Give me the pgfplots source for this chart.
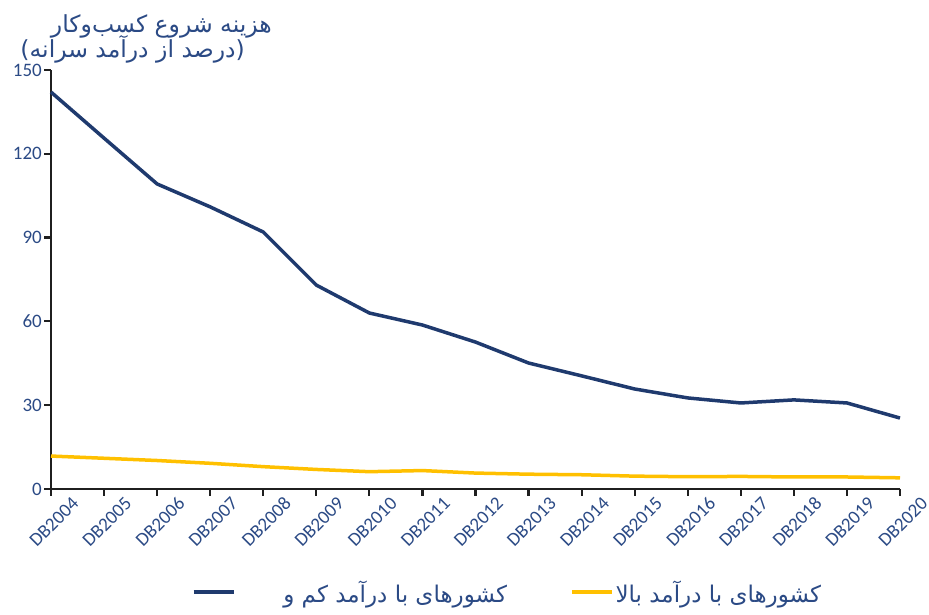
\documentclass[border=0pt]{standalone}
\usepackage{pgfplots}
\pgfplotsset{compat=1.18}
\usepackage{fontspec}
\setmainfont{Carlito}
\newfontfamily\arabicfont[Script=Arabic]{DejaVu Sans}
\TeXXeTstate=1
\definecolor{dblue}{HTML}{1F3A6E}
\definecolor{lblue}{HTML}{2B4A85}
\definecolor{gold}{HTML}{FFC000}
\begin{document}
\begin{tikzpicture}
\path[use as bounding box] (0pt,0pt) rectangle (929pt,615pt);
\node[anchor=base east, text=lblue, inner sep=0pt, font=\arabicfont\fontsize{23.5}{26}\selectfont] at (272pt,582pt) {\beginR هزینه شروع کسب‌وکار\endR};
\node[anchor=base east, text=lblue, inner sep=0pt, font=\arabicfont\fontsize{23.5}{26}\selectfont] at (245pt,557pt) {\beginR (درصد از درآمد سرانه)\endR};
\begin{axis}[
  at={(51pt,126pt)}, anchor=south west,
  scale only axis, width=849pt, height=419pt,
  xmin=0, xmax=16, ymin=0, ymax=150,
  axis x line=bottom, axis y line=left,
  axis line style={-, line width=2.6pt, black!88},
  xtick={0,...,16},
  xticklabels={DB2004,DB2005,DB2006,DB2007,DB2008,DB2009,DB2010,DB2011,DB2012,DB2013,DB2014,DB2015,DB2016,DB2017,DB2018,DB2019,DB2020},
  ytick={0,30,60,90,120,150},
  tick align=outside, major tick length=7pt,
  tick style={line width=2.2pt, black!88},
  x tick label style={anchor=center, yshift=-26pt, xshift=3pt, rotate=45, inner sep=0pt},
  y tick label style={inner sep=2pt},
  tick label style={text=lblue, font=\fontsize{19}{22}\selectfont},
  /pgf/number format/assume math mode=true,
  clip=false,
  legend style={at={(0.5377,-0.246)}, anchor=center, draw=none, fill=none,
     legend columns=2, font=\arabicfont\fontsize{23}{26}\selectfont, text=lblue,
     /tikz/every even column/.append style={column sep=61pt}},
  legend image code/.code={\draw[#1] (0pt,0pt) -- (40pt,0pt);},
]
\addplot[color=dblue, line width=3.5pt] coordinates {
(0,142.1) (1,125.6) (2,109.2) (3,101) (4,92) (5,73) (6,63) (7,58.7) (8,52.6)
(9,45.1) (10,40.5) (11,35.8) (12,32.6) (13,30.8) (14,31.9) (15,30.8) (16,25.4)};
\addlegendentry{\hspace*{46pt}\beginR کشورهای با درآمد کم و\endR}
\addplot[color=gold, line width=3.5pt] coordinates {
(0,11.8) (1,11) (2,10.2) (3,9.2) (4,8) (5,7) (6,6.2) (7,6.6) (8,5.7)
(9,5.3) (10,5.1) (11,4.6) (12,4.4) (13,4.5) (14,4.3) (15,4.3) (16,4.0)};
\addlegendentry{\beginR کشورهای با درآمد بالا\endR}
\end{axis}
\end{tikzpicture}
\end{document}
